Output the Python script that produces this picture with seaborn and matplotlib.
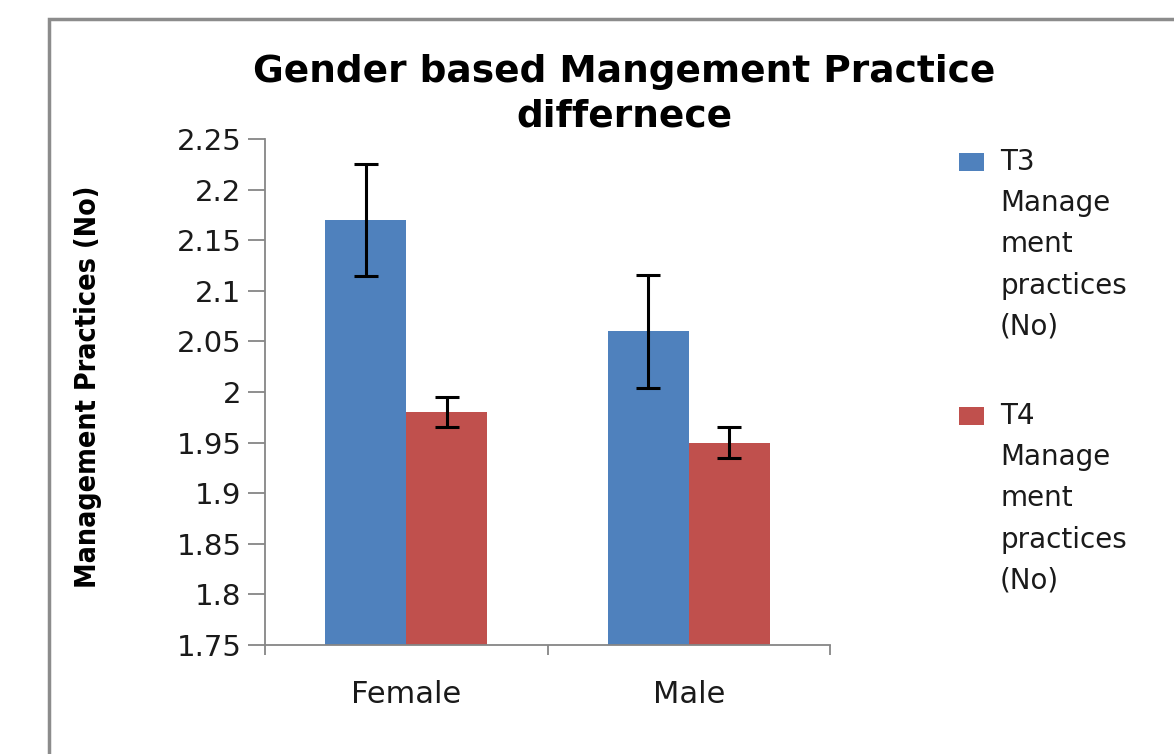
import pandas as pd
import matplotlib
matplotlib.use('Agg')
import matplotlib.pyplot as plt
import seaborn as sns
from matplotlib.patches import Rectangle

genders = ['Female', 'Male']
series = ['T3\nManage\nment\npractices\n(No)', 'T4\nManage\nment\npractices\n(No)']
t3_values = [2.17, 2.06]
t4_values = [1.98, 1.95]
t3_err = [0.055, 0.056]
t4_err = [0.015, 0.015]
y_ticks = [1.75, 1.8, 1.85, 1.9, 1.95, 2.0, 2.05, 2.1, 2.15, 2.2, 2.25]
y_tick_labels = ['1.75', '1.8', '1.85', '1.9', '1.95', '2', '2.05', '2.1', '2.15', '2.2', '2.25']

df = pd.DataFrame({
    'Gender': genders * 2,
    'Series': [series[0]] * 2 + [series[1]] * 2,
    'Value': t3_values + t4_values,
    'Err': t3_err + t4_err,
})

sns.set_style('white')
plt.rcParams['font.family'] = ['DejaVu Sans']

fig = plt.figure(figsize=(11.74, 7.54), dpi=100)
ax = fig.add_axes([265 / 1174, 1 - 645 / 754, (830 - 265) / 1174, (645 - 139) / 754])

sns.barplot(data=df, x='Gender', y='Value', hue='Series', order=genders, hue_order=series,
            palette=['#4F81BD', '#C0504D'], errorbar=None, width=0.574, linewidth=0,
            saturation=1, ax=ax)

# error bars on the bar centres seaborn computed
for container, errs in zip(ax.containers, [t3_err, t4_err]):
    xs = [p.get_x() + p.get_width() / 2 for p in container.patches]
    ys = [p.get_height() for p in container.patches]
    ax.errorbar(xs, ys, yerr=errs, fmt='none', ecolor='black', elinewidth=2.2,
                capsize=8.5, capthick=2.2, zorder=5)

ax.set_ylim(1.75, 2.25)
ax.set_xlim(-0.5, 1.5)
ax.set_yticks(y_ticks)
ax.set_yticklabels(y_tick_labels, fontsize=21, color='#1a1a1a')
ax.set_xticks([0, 1])
ax.set_xticklabels(genders, fontsize=22, color='#1a1a1a')
ax.set_xticks([-0.5, 0.5, 1.5], minor=True)
ax.tick_params(axis='both', which='both', left=True, bottom=True)
ax.tick_params(axis='x', which='major', length=0, pad=25)
ax.tick_params(axis='x', which='minor', length=7, width=1.3, color='#868686', direction='out')
ax.tick_params(axis='y', which='major', length=12, width=1.3, color='#868686', direction='out', pad=5)
ax.set_xlabel('')
ax.set_ylabel('Management Practices (No)', fontsize=20.5, fontweight='bold', fontstretch='condensed',
              family=['DejaVu Sans Condensed', 'DejaVu Sans'], color='black')
ax.yaxis.set_label_coords((102 - 265) / 565, 0.51)
for side in ['top', 'right']:
    ax.spines[side].set_visible(False)
for side in ['left', 'bottom']:
    ax.spines[side].set_color('#868686')
    ax.spines[side].set_linewidth(1.3)

ax.get_legend().remove()
handles, labels = ax.get_legend_handles_labels()
leg = fig.legend(handles, labels, loc='upper left', bbox_to_anchor=(959 / 1174, 1 - 148 / 754),
                 frameon=False, fontsize=20, handlelength=0.9, handleheight=0.65,
                 handletextpad=0.58, labelspacing=2.2, borderpad=0, borderaxespad=0)
for t in leg.get_texts():
    t.set_linespacing(1.6)
    t.set_color('#1a1a1a')
for col in leg._legend_handle_box.get_children():
    for row in col.get_children():
        row.align = 'top'
for h in leg.legend_handles:
    h.set_y(h.get_y() - 3.5)

fig.text(624 / 1174, 1 - 94 / 754, 'Gender based Mangement Practice\ndiffernece',
         ha='center', va='center', fontsize=27, fontweight='bold', linespacing=1.3, color='black')

fig.patches.append(Rectangle((49 / 1174, -0.2), 2, 1 - 19 / 754 + 0.2, transform=fig.transFigure,
                             fill=False, edgecolor='#8c8c8c', linewidth=2.5, clip_on=False))

fig.savefig('out.png', dpi=100)
